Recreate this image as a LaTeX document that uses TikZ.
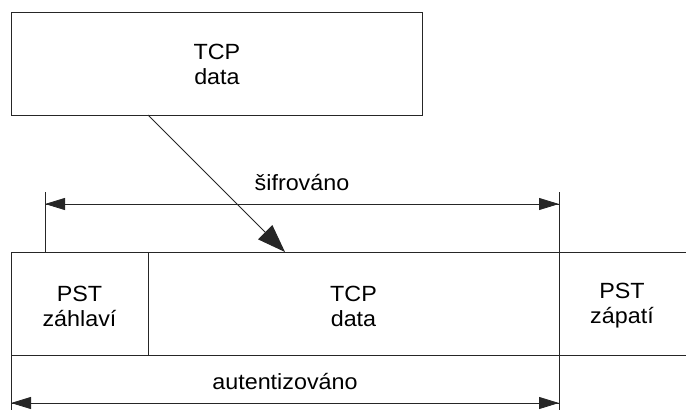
\documentclass[tikz,border=0pt]{standalone}
\usepackage{fontspec}
\setmainfont{Liberation Sans}[FakeStretch=1.06]
\usetikzlibrary{arrows.meta}
\begin{document}
\begin{tikzpicture}[x=1pt,y=-1pt,
  lbl/.style={font=\fontsize{22}{25}\selectfont, align=center, inner sep=0pt},
  ln/.style={line width=0.9pt, draw=black!85},
  dimtip/.style={-{Triangle[length=20pt,width=12pt]}},
  bigtip/.style={-{Triangle[length=28pt,width=20pt]}}]
\useasboundingbox (0,0) rectangle (686,410);
% top box
\node[ln, draw, minimum width=411pt, minimum height=103pt, inner sep=0pt, anchor=north west] (top) at (11,12) {};
\node[lbl] (toptext) at (top.center) {TCP\\data};
% strip cells
\coordinate (sTL) at (11,252);
\coordinate (sBL) at (11,355);
\coordinate (sTR) at (686,252);
\coordinate (sBR) at (686,355);
\coordinate (d1T) at (148,252);
\coordinate (d1B) at (148,355);
\coordinate (d2T) at (559,192);
\coordinate (d2B) at (559,410);
\coordinate (lB) at (11,410);
\coordinate (hT) at (45,192);
\coordinate (hB) at (45,252);
\draw[ln] (sTL) -- (sTR);
\draw[ln] (sBL) -- (sBR);
\draw[ln] (sTL) -- (lB);
\draw[ln] (d1T) -- (d1B);
\draw[ln] (d2T) -- (d2B);
\draw[ln] (hT) -- (hB);
\node[lbl] (hdr) at (79.5,306) {PST\\záhlaví};
\node[lbl] (mid) at (353.5,306) {TCP\\data};
\node[lbl] (ftr) at (622,306) {PST\\zápatí};
% dimension arrows
\coordinate (e1) at (45,204);
\coordinate (e2) at (559,204);
\draw[ln, dimtip] (e2) -- (e1);
\draw[ln, dimtip] (e1) -- (e2);
\node[lbl, anchor=base] (enc) at (302,190) {šifrováno};
\coordinate (a1) at (11,403);
\coordinate (a2) at (559,403);
\draw[ln, dimtip] (a2) -- (a1);
\draw[ln, dimtip] (a1) -- (a2);
\node[lbl, anchor=base] (auth) at (285,389) {autentizováno};
% diagonal arrow
\coordinate (dg1) at (148,115);
\coordinate (dg2) at (285,252);
\draw[ln, bigtip] (dg1) -- (dg2);
\end{tikzpicture}
\end{document}
